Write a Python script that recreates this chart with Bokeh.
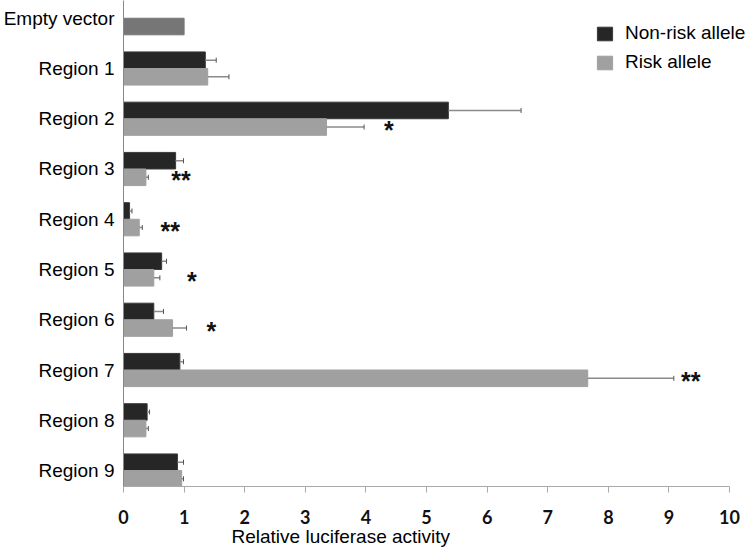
from bokeh.plotting import figure
from bokeh.models import Range1d, FixedTicker, Legend, LegendItem, ColumnDataSource, Title
from bokeh.core.properties import value
from bokeh.embed import file_html
from bokeh.resources import INLINE

# ---- data ----
categories = ["Empty vector", "Region 1", "Region 2", "Region 3", "Region 4",
              "Region 5", "Region 6", "Region 7", "Region 8", "Region 9"]
empty_vector = 1.0
regions = categories[1:]
nonrisk = [1.35, 5.36, 0.86, 0.10, 0.63, 0.50, 0.93, 0.39, 0.89]
nonrisk_err = [0.18, 1.20, 0.13, 0.04, 0.08, 0.16, 0.06, 0.04, 0.10]
risk = [1.39, 3.35, 0.37, 0.26, 0.50, 0.81, 7.66, 0.37, 0.96]
risk_err = [0.35, 0.62, 0.04, 0.05, 0.10, 0.23, 1.42, 0.04, 0.03]
sig_labels = ["", "*", "**", "**", "*", "*", "**", "", ""]
sig_x = [0, 4.38, 0.95, 0.77, 1.13, 1.45, 9.36, 0, 0]
x_ticks = list(range(0, 11))

BLACK = "#262626"
GREY = "#a0a0a0"
EMPTY = "#767676"
ERR = "#8a8a8a"

p = figure(width=747, height=549, output_backend="svg", toolbar_location=None,
           x_range=Range1d(0, 10.296), y_range=Range1d(9.318, -0.353),
           min_border_left=121, min_border_right=0, min_border_top=0,
           min_border_bottom=63)
p.outline_line_color = None
p.xgrid.visible = False
p.ygrid.visible = False

bh = 0.33
pos = [categories.index(r) for r in regions]
y_nr = [v - bh / 2 for v in pos]
y_r = [v + bh / 2 for v in pos]
nr_end = [a + b for a, b in zip(nonrisk, nonrisk_err)]
r_end = [a + b for a, b in zip(risk, risk_err)]

src_nr = ColumnDataSource(dict(y=y_nr, right=nonrisk, err=nr_end))
src_r = ColumnDataSource(dict(y=y_r, right=risk, err=r_end))

r_nr = p.hbar(y="y", left=0, right="right", height=bh, source=src_nr,
              fill_color=BLACK, line_color="#3a3a3a", line_width=1)
r_r = p.hbar(y="y", left=0, right="right", height=bh, source=src_r,
             fill_color=GREY, line_color=GREY, line_width=1)
p.hbar(y=[0 + bh / 2], left=0, right=[empty_vector], height=bh,
       fill_color=EMPTY, line_color=EMPTY)

for src in (src_nr, src_r):
    p.segment(x0="right", y0="y", x1="err", y1="y", source=src, line_color=ERR, line_width=1.5)

# error bar end caps
cap = 0.05
p.segment(x0=nr_end, y0=[v - cap for v in y_nr], x1=nr_end, y1=[v + cap for v in y_nr],
          line_color="#555555", line_width=1)
p.segment(x0=r_end, y0=[v - cap for v in y_r], x1=r_end, y1=[v + cap for v in y_r],
          line_color="#555555", line_width=1)

# significance stars
sx = [x for x, s in zip(sig_x, sig_labels) if s]
sy = [v + 0.06 for v, s in zip(y_r, sig_labels) if s]
st = [s for s in sig_labels if s]
p.text(x=sx, y=sy, text=st, text_font=value("Liberation Sans"), text_font_style="bold",
       text_font_size="25px", text_align="center", text_baseline="middle", text_color="#111111")

# axes
xa = p.xaxis[0]
xa.ticker = FixedTicker(ticks=x_ticks)
xa.bounds = (0, 10)
xa.minor_tick_line_color = None
xa.major_tick_in = 0
xa.major_tick_out = 6
xa.axis_line_color = "#aaaaaa"
xa.major_tick_line_color = "#aaaaaa"
xa.major_label_text_font = "Lato"
xa.major_label_text_font_style = "bold"
xa.major_label_text_font_size = "18px"
xa.major_label_text_color = "#111111"
xa.major_label_standoff = 17

ya = p.yaxis[0]
ya.ticker = FixedTicker(ticks=list(range(len(categories))))
ya.major_label_overrides = {i: c for i, c in enumerate(categories)}
ya.minor_tick_line_color = None
ya.major_tick_in = 0
ya.major_tick_out = 0
ya.major_tick_line_color = None
ya.axis_line_color = "#888888"
ya.major_label_text_font = "Liberation Sans"
ya.major_label_text_font_size = "19px"
ya.major_label_text_color = "#000000"
ya.major_label_standoff = 9

p.add_layout(Title(text="Relative luciferase activity", align="left", offset=108,
                   standoff=-5, text_font="Liberation Sans", text_font_size="19px",
                   text_font_style="normal", text_color="#000000"), "below")

legend = Legend(items=[LegendItem(label="Non-risk allele", renderers=[r_nr]),
                       LegendItem(label="Risk allele", renderers=[r_r])],
                location=(472, 413), padding=0, margin=0, spacing=7,
                glyph_width=19, glyph_height=17, label_height=17, label_standoff=11,
                label_text_font="Liberation Sans", label_text_font_size="19px",
                label_text_color="#000000", border_line_color=None,
                background_fill_alpha=0)
p.add_layout(legend)

open("out.html", "w").write(file_html(p, INLINE))
